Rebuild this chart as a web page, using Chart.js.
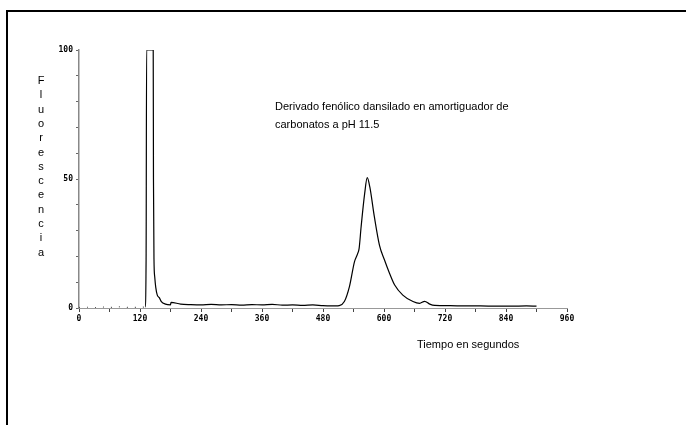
<!DOCTYPE html>
<html>
<head>
<meta charset="utf-8">
<script src="https://cdn.jsdelivr.net/npm/chart.js@4"></script>
<style>
  html, body { margin: 0; padding: 0; background: #fff; }
  #wrap { position: relative; width: 686px; height: 425px; }
</style>
</head>
<body>
<div id="wrap"><canvas id="grafica" width="686" height="425"></canvas></div>
<script>
const tiempo = [0, 15, 30, 45, 60, 75, 90, 105, 120, 130, 132, 133, 146, 146.5, 147.5, 149, 151, 154, 158, 162, 170, 180, 181,
  200, 220, 240, 260, 280, 300, 320, 340, 360, 380, 400, 420, 440, 460, 480, 495, 505, 512, 522, 532, 542, 548, 551,
  555, 562, 567, 572, 581, 591, 601, 611, 621, 637, 657, 670, 680, 690, 700, 730, 760, 790, 820, 850, 880, 900];
const fluorescencia = [0.2, 0.3, 0.1, 0.4, 0.2, 0.5, 0.3, 0.2, 0.3, 0.4, 19, 100, 100, 50, 19, 12, 8, 5, 4, 2.5, 1.5, 1.2, 2.2,
  1.5, 1.3, 1.2, 1.4, 1.2, 1.3, 1.1, 1.3, 1.2, 1.4, 1.1, 1.2, 1.0, 1.2, 0.9, 0.8, 0.8, 0.9, 2.5, 8.3, 18, 21, 23,
  31.5, 44.4, 50.5, 47, 35.4, 24.4, 18.6, 13.4, 8.9, 5, 2.5, 1.8, 2.6, 1.5, 1.0, 0.9, 0.8, 0.8, 0.7, 0.7, 0.8, 0.7];

const etiquetasY = [0, 50, 100];
const notaLineas = ['Derivado fenólico dansilado en amortiguador de', 'carbonatos a pH 11.5'];
const tituloY = 'Fluorescencia';
const tituloX = 'Tiempo en segundos';

const puntos = tiempo.map((t, i) => ({ x: t, y: fluorescencia[i] }));

// marco, titulos y nota
const textos = {
  id: 'textos',
  beforeDraw(chart) {
    const c = chart.ctx;
    c.save();
    c.strokeStyle = '#000';
    c.lineWidth = 2;
    c.beginPath();
    c.moveTo(7, 425);
    c.lineTo(7, 11);
    c.lineTo(686, 11);
    c.stroke();
    c.restore();
  },
  afterDraw(chart) {
    const c = chart.ctx;
    c.save();
    c.fillStyle = '#000';
    c.font = '11px "Liberation Sans", Arial, sans-serif';
    c.textBaseline = 'middle';
    c.textAlign = 'left';
    notaLineas.forEach((l, i) => c.fillText(l, 275, 107 + i * 18));
    c.fillText(tituloX, 417, 345);
    c.textAlign = 'center';
    tituloY.split('').forEach((ch, i) => c.fillText(ch, 41, 81 + i * 14.3));
    c.restore();
  }
};

new Chart(document.getElementById('grafica'), {
  type: 'line',
  data: {
    datasets: [{
      data: puntos,
      borderColor: '#000',
      borderWidth: 1.2,
      pointRadius: 0,
      cubicInterpolationMode: 'monotone',
      fill: false,
      // tramo inicial punteado antes del primer pico
      segment: {
        borderDash: ctx => (ctx.p1.parsed.x <= 130 ? [1, 7] : undefined),
        borderColor: ctx => (ctx.p1.parsed.x <= 130 ? '#555' : undefined)
      }
    }]
  },
  options: {
    responsive: false,
    animation: false,
    events: [],
    layout: { padding: { left: 0, top: 50, right: 119, bottom: 0 } },
    plugins: { legend: { display: false }, tooltip: { enabled: false } },
    scales: {
      x: {
        type: 'linear',
        min: 0,
        max: 960,
        afterFit(s) { s.height = 117; },
        afterBuildTicks(s) {
          const t = [];
          for (let v = 0; v <= 960; v += 60) t.push({ value: v });
          s.ticks = t;
        },
        border: { display: true, color: '#999', dash: [1, 3] },
        grid: { drawOnChartArea: false, drawTicks: true, tickLength: 4, color: '#444' },
        ticks: {
          color: '#000',
          padding: 2,
          maxRotation: 0,
          autoSkip: false,
          font: { family: '"DejaVu Sans Mono", monospace', size: 8, weight: 'bold' },
          callback: v => (v % 120 === 0 ? String(v) : '')
        }
      },
      y: {
        min: 0,
        max: 100,
        afterFit(s) { s.width = 79; },
        afterBuildTicks(s) {
          const t = [];
          for (let v = 0; v <= 100; v += 10) t.push({ value: v });
          s.ticks = t;
        },
        border: { display: true, color: '#888', width: 1.5 },
        grid: { drawOnChartArea: false, drawTicks: true, tickLength: 3, color: '#666' },
        ticks: {
          color: '#000',
          padding: 3,
          autoSkip: false,
          font: { family: '"DejaVu Sans Mono", monospace', size: 8, weight: 'bold' },
          callback: v => (etiquetasY.includes(v) ? String(v) : '')
        }
      }
    }
  },
  plugins: [textos]
});
</script>
</body>
</html>
